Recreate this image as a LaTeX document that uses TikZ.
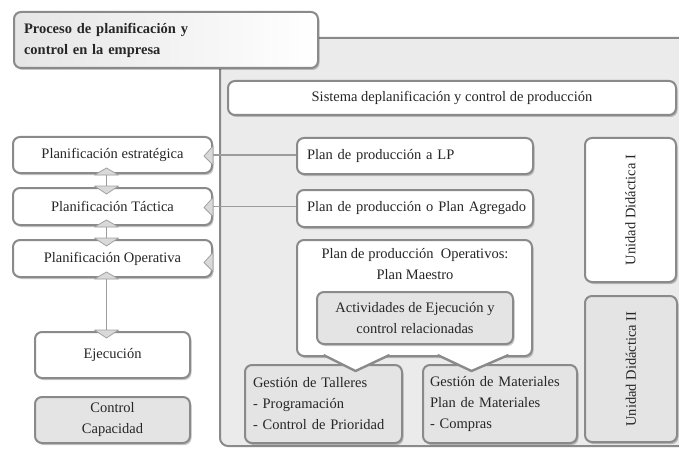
\documentclass[tikz,border=0pt]{standalone}
\usepackage{fontspec}
\setmainfont{Liberation Serif}
\usetikzlibrary{calc,shadows}
\definecolor{edge}{HTML}{8A8A8A}
\definecolor{panelbg}{HTML}{EBEBEB}
\definecolor{boxgrey}{HTML}{E4E4E4}
\definecolor{ink}{HTML}{262626}
\definecolor{tipfill}{HTML}{D9D9D9}

\begin{document}
\begin{tikzpicture}[x=1pt,y=-1pt,
  card/.style={draw=edge, line width=2pt, rounded corners=7pt, fill=white,
    text=ink, font=\fontsize{14.5}{21}\selectfont, inner sep=0pt,
    drop shadow={shadow xshift=1.5pt, shadow yshift=-2pt, fill=black, opacity=0.22}},
  greycard/.style={card, fill=boxgrey},
  label/.style={text=ink, font=\fontsize{14.5}{21}\selectfont},
  link/.style={draw=edge!85, line width=1.2pt},
  tip/.style={fill=tipfill, draw=edge!80, line width=0.8pt, line join=round},
  callout/.style={fill=white, draw=edge, line width=2.4pt, line join=round}
]
\useasboundingbox (0,0) rectangle (679,449);

% grey panel behind the production system
\begin{scope}
  \clip (0,0) rectangle (679,449);
  \draw[draw=edge, line width=2pt, fill=panelbg, rounded corners=8pt]
    (220,38) rectangle (720,446);
\end{scope}

% title card
\node[card, left color=black!10, right color=white, minimum width=304, minimum height=56,
      text width=284, align=left, font=\bfseries\fontsize{14.5}{21}\selectfont]
  (title) at (166,40) {Proceso de planificación y\\control en la empresa};

% right side: production planning system
\node[card, minimum width=448, minimum height=34] (sys) at (452,98)
  {Sistema deplanificación y control de producción};
\node[card, minimum width=236, minimum height=36, text width=216, align=left] (lp) at (415,156)
  {Plan de producción a LP};
\node[card, minimum width=236, minimum height=37, text width=216, align=left] (agr) at (415,208.5)
  {\mbox{Plan de producción o Plan Agregado}};
\node[card, minimum width=235, minimum height=116] (oper) at (414.5,298) {};
\node[label, align=center, anchor=north] (opertext) at (415,245)
  {Plan de producción\ \ Operativos:\\Plan Maestro};
\node[greycard, minimum width=196, minimum height=52, align=center] (act) at (415,318)
  {Actividades de Ejecución y\\control relacionadas};

\node[card, minimum width=91, minimum height=144] (ud1) at (630.5,210) {};
\node[label, rotate=90] (ud1text) at (630.5,210) {Unidad Didáctica I};
\node[greycard, minimum width=92, minimum height=146] (ud2) at (631,369) {};
\node[label, rotate=90] (ud2text) at (631,369) {Unidad Didáctica II};

\node[greycard, minimum width=157, minimum height=78, text width=141, align=left] (tal) at (323.5,404)
  {Gestión de Talleres\\- Programación\\- Control de Prioridad};
\node[greycard, minimum width=154, minimum height=78, text width=140, align=left] (mat) at (500,404)
  {Gestión de Materiales\\Plan de Materiales\\- Compras};

% callouts from the master plan down to the management boxes
\path[callout] ($(oper.south)+(-91,-2)$) -- ($(oper.south)+(-59,14)$) -- ($(oper.south)+(-25,-2)$);
\path[callout] ($(oper.south)+(23,-2)$) -- ($(oper.south)+(57,14)$) -- ($(oper.south)+(94,-2)$);
\fill[white] ($(oper.south)+(-88,-3)$) -- ($(oper.south)+(-59,12)$) -- ($(oper.south)+(-28,-3)$) -- cycle;
\fill[white] ($(oper.south)+(26,-3)$) -- ($(oper.south)+(57,12)$) -- ($(oper.south)+(91,-3)$) -- cycle;

% left column: planning levels
\node[card, minimum width=199, minimum height=36] (est) at (112.5,155) {Planificación estratégica};
\node[card, minimum width=199, minimum height=37] (tac) at (112.5,206.5) {Planificación Táctica};
\node[card, minimum width=199, minimum height=37] (opv) at (112.5,258.5) {Planificación Operativa};
\node[card, minimum width=155, minimum height=46] (eje) at (112.5,355) {Ejecución};
\node[greycard, minimum width=155, minimum height=46, align=center] (ctl) at (112.5,420)
  {Control\\Capacidad};

% horizontal links between levels and plans
\draw[link] (est.east) -- (est.east -| lp.west);
\draw[link] (tac.east) -- (tac.east -| agr.west);
\draw[link] ($(opv.east)+(0,3)$) -- ($(opv.east)+(0,3)$ -| oper.west);

% wedge tips where the links meet the left cards
\foreach \n/\dy in {est/0,tac/0,opv/3}{
  \path[tip] ($(\n.east)+(0,\dy-9)$) -- ($(\n.east)+(-9,\dy+1)$) -- ($(\n.east)+(0,\dy+10)$) -- cycle;
}

% vertical links with triangular heads
\foreach \a/\b in {est/tac,tac/opv,opv/eje}{
  \draw[link] ($(\a.south)+(-6,0)$) -- ($(\b.north)+(-6,0)$);
  \path[tip] ($(\a.south)+(-18,1)$) -- ($(\a.south)+(-6,-6)$) -- ($(\a.south)+(6,1)$) -- cycle;
  \path[tip] ($(\b.north)+(-18,-1)$) -- ($(\b.north)+(-6,7)$) -- ($(\b.north)+(6,-1)$) -- cycle;
}
\end{tikzpicture}
\end{document}
